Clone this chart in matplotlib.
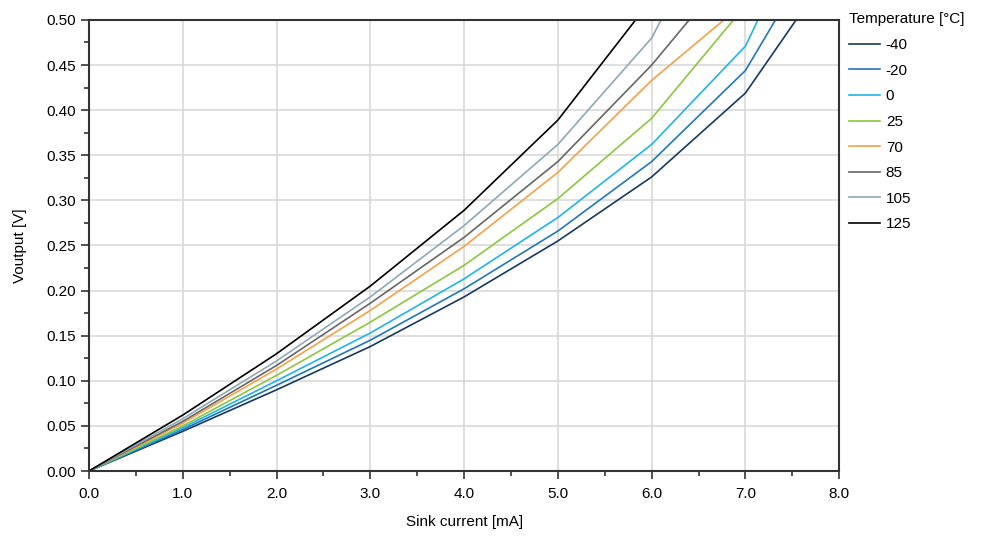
import matplotlib
matplotlib.use('Agg')
import matplotlib.pyplot as plt
from matplotlib.ticker import MultipleLocator

plt.rcParams['font.family'] = ['Liberation Sans', 'DejaVu Sans']

current = [0, 1, 2, 3, 4, 5, 6, 7, 8]

temps = ['-40', '-20', '0', '25', '70', '85', '105', '125']
colors = ['#163a5f', '#1f78b8', '#1fb4e8', '#8cc63f', '#f7a045', '#666666', '#8ea8b6', '#000000']

vout = {
    '-40': [0, 0.044, 0.090, 0.138, 0.193, 0.255, 0.326, 0.419, 0.569],
    '-20': [0, 0.046, 0.095, 0.145, 0.202, 0.266, 0.343, 0.444, 0.619],
    '0':   [0, 0.048, 0.100, 0.153, 0.213, 0.281, 0.362, 0.471, 0.690],
    '25':  [0, 0.050, 0.106, 0.165, 0.228, 0.302, 0.391, 0.516],
    '70':  [0, 0.053, 0.113, 0.178, 0.249, 0.331, 0.433, 0.520],
    '85':  [0, 0.055, 0.117, 0.186, 0.259, 0.343, 0.450, 0.575],
    '105': [0, 0.058, 0.122, 0.193, 0.272, 0.362, 0.480, 0.680],
    '125': [0, 0.062, 0.130, 0.205, 0.289, 0.389, 0.523],
}

fig = plt.figure(figsize=(9.93, 5.38), dpi=100)
ax = fig.add_axes([0.0896, 0.1245, 0.7556, 0.8385])

for t, c in zip(temps, colors):
    y = vout[t]
    ax.plot(current[:len(y)], y, color=c, lw=1.2, label=t)

ax.set_xlim(0, 8)
ax.set_ylim(0, 0.5)
ax.xaxis.set_major_locator(MultipleLocator(1))
ax.xaxis.set_minor_locator(MultipleLocator(0.5))
ax.yaxis.set_major_locator(MultipleLocator(0.05))
ax.yaxis.set_minor_locator(MultipleLocator(0.025))
ax.xaxis.set_major_formatter(lambda v, p: f'{v:.1f}')
ax.yaxis.set_major_formatter(lambda v, p: f'{v:.2f}')
ax.grid(True, which='major', color='#d9d9d9', lw=1.2)
ax.set_axisbelow(True)

for s in ax.spines.values():
    s.set_color('#333333')
    s.set_linewidth(1.5)
ax.tick_params(which='both', direction='out', color='#333333', labelsize=11, width=1.2)
ax.tick_params(which='major', length=5.5)
ax.tick_params(which='minor', length=3.5)
ax.tick_params(axis='x', which='major', pad=6)

ax.set_xlabel('Sink current [mA]', fontsize=11, labelpad=10)
ax.set_ylabel('Voutput [V]', fontsize=11, labelpad=14)

leg = ax.legend(title='Temperature [°C]', loc='upper left', bbox_to_anchor=(1.005, 1.03),
                frameon=False, fontsize=11, title_fontsize=11, handlelength=2.0,
                handletextpad=0.4, labelspacing=0.76, borderaxespad=0)
leg._legend_box.align = 'left'

fig.savefig('out.png', dpi=100)
